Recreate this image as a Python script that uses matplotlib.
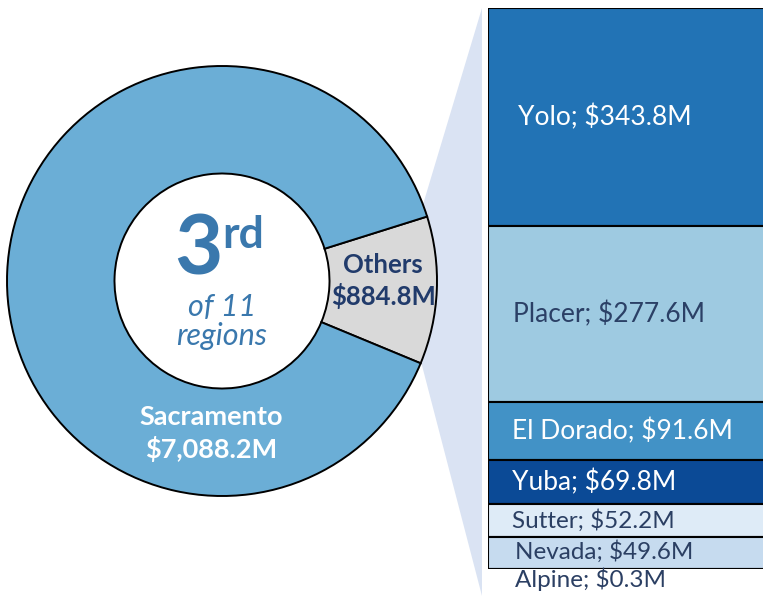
import matplotlib.pyplot as plt
from matplotlib.patches import Polygon
import numpy as np

plt.rcParams['font.family'] = ['Lato', 'DejaVu Sans']

# donut data
donut_labels = ["Others", "Sacramento"]
donut_values = [884.8, 7088.2]
donut_colors = ["#d9d9d9", "#6baed6"]

# breakdown of "Others"
others_names = ["Yolo", "Placer", "El Dorado", "Yuba", "Sutter", "Nevada", "Alpine"]
others_values = [343.8, 277.6, 91.6, 69.8, 52.2, 49.6, 0.3]
others_colors = ["#2273b5", "#9ecae1", "#4292c6", "#0b4a96", "#deebf7", "#c6dbef", "#deebf7"]
others_text = ["white", "#2b4066", "white", "white", "#2b3f63", "#2b3f63", "#2b3f63"]

W, H = 763, 596
fig = plt.figure(figsize=(W / 100, H / 100), dpi=100)

def px(x0, y0, w, h):
    # pixel box (top-left origin) -> figure fraction
    return [x0 / W, (H - y0 - h) / H, w / W, h / H]

# connector shape behind everything
conn = Polygon([(400 / W, 1 - 281 / H), (482 / W, 1 - 8 / H), (482 / W, 1 - 596 / H)],
               closed=True, transform=fig.transFigure, facecolor="#dae3f3",
               edgecolor="none", zorder=-1)
fig.patches.append(conn)

# donut
cx, cy, r = 222, 281, 215
ax1 = fig.add_axes(px(cx - r, cy - r, 2 * r, 2 * r))
ax1.pie(donut_values, colors=donut_colors, startangle=-22.5, counterclock=True, radius=1,
        wedgeprops=dict(width=0.5, edgecolor="black", linewidth=1.4))
ax1.set_xlim(-1, 1)
ax1.set_ylim(-1, 1)
ax1.set_aspect("equal")
ax1.axis("off")

ax1.text(0.75, 0.0, "Others\n$884.8M", ha="center", va="center", fontsize=18.5,
         fontweight="bold", color="#213b6b", linespacing=1.3)
ax1.text(-0.05, -0.71, "Sacramento\n$7,088.2M", ha="center", va="center", fontsize=19.5,
         fontweight="bold", color="white", linespacing=1.35)

blue = "#3a78ad"
ax1.text(-0.11, 0.028, "3", ha="center", va="baseline", fontsize=60, fontweight="bold", color=blue)
ax1.text(0.0, 0.155, "rd", ha="left", va="baseline", fontsize=32, fontweight="bold", color=blue)
ax1.text(0.0, -0.12, "of 11", ha="center", va="center", fontsize=22, style="italic", color=blue)
ax1.text(0.0, -0.258, "regions", ha="center", va="center", fontsize=22, style="italic", color=blue)

# stacked bar of the others
total = sum(others_values)
top_px, bot_px = 8, 569
ax2 = fig.add_axes(px(488, top_px, 320, bot_px - top_px))
bottoms = np.concatenate([[0], np.cumsum(others_values)[:-1]])
ax2.bar(0, others_values, bottom=bottoms, width=1, align="edge", color=others_colors,
        edgecolor="black", linewidth=1.5)
ax2.set_xlim(0, 1)
ax2.set_ylim(total, 0)
ax2.axis("off")

label_x = [30, 25, 24, 24, 24, 27, 27]
label_size = [19, 19, 19, 19, 17.5, 17.5, 17.5]
for i, (n, v) in enumerate(zip(others_names, others_values)):
    ymid = bottoms[i] + v / 2
    if n == "Alpine":
        ymid = bottoms[i] + 16
    elif n == "Nevada":
        ymid = bottoms[i] + v / 2 - 3
    ax2.text(label_x[i] / 320, ymid, f"{n}; ${v:.1f}M", ha="left", va="center",
             fontsize=label_size[i], color=others_text[i], clip_on=False)

fig.savefig("out.png", dpi=100)
